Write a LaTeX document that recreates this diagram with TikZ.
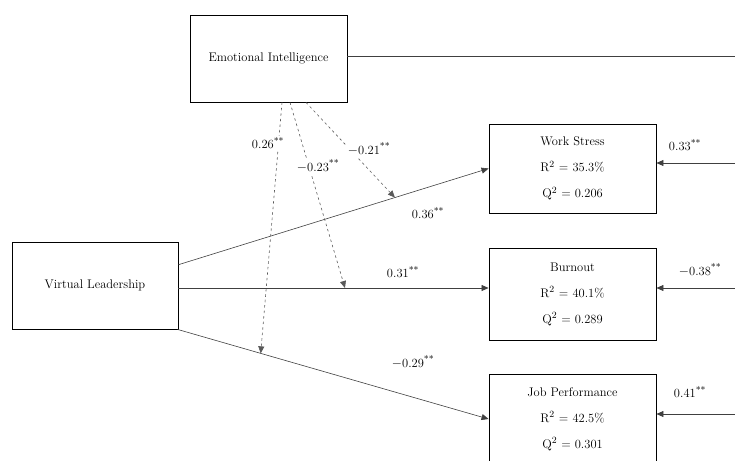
\documentclass[tikz,border=0pt]{standalone}
\usepackage{mathpazo}
\usetikzlibrary{arrows.meta}

\newcommand{\sig}{\textsuperscript{**}}

\begin{document}
\begin{tikzpicture}[x=1pt,y=-1pt]
	\tikzstyle{every node}=[font=\fontsize{12.5}{14}\selectfont]
	\tikzstyle{box}=[draw,line width=0.9pt,rectangle,inner sep=0pt,align=center]
	\tikzstyle{path}=[draw=black!75,line width=0.6pt,-{Triangle[length=7pt,width=6pt]}]
	\tikzstyle{moder}=[path,draw=black!65,dash pattern=on 2.5pt off 3pt]
	\tikzstyle{coef}=[font=\fontsize{12.5}{14}\selectfont,fill=white,inner sep=1.5pt]
	\useasboundingbox (0,0) rectangle (735,460);
	\clip (0,0) rectangle (735,460);
	% constructs
	\node[box,minimum width=157pt,minimum height=87pt] (ei) at (268.5,58.5) {Emotional Intelligence};
	\node[box,minimum width=166pt,minimum height=87pt] (vl) at (95,285.5) {Virtual Leadership};
	\node[box,minimum width=167pt,minimum height=89pt] (ws) at (572.5,168.5)
		{Work Stress\\[12pt] R\textsuperscript{2} = 35.3\%\\[12pt] Q\textsuperscript{2} = 0.206};
	\node[box,minimum width=167pt,minimum height=92pt] (bo) at (572.5,294)
		{Burnout\\[12pt] R\textsuperscript{2} = 40.1\%\\[12pt] Q\textsuperscript{2} = 0.289};
	\node[box,minimum width=167pt,minimum height=90pt] (jp) at (572.5,419)
		{Job Performance\\[12pt] R\textsuperscript{2} = 42.5\%\\[12pt] Q\textsuperscript{2} = 0.301};
	% free ends on the right
	\coordinate (eiout) at (735,56);
	\coordinate (wsin) at (735,163);
	\coordinate (boin) at (735,288);
	\coordinate (jpin) at (735,414);
	\coordinate (midrow) at (0,288);
	% direct paths
	\draw[path] (vl.14) -- (ws.west) coordinate[pos=0.698] (m1);
	\draw[path] (vl.east |- midrow) -- (bo.west |- midrow) coordinate[pos=0.537] (m2);
	\draw[path] (vl.-28) -- (jp.west) coordinate[pos=0.267] (m3);
	% moderation
	\draw[moder] ([xshift=37.5pt]ei.south) -- (m1);
	\draw[moder] ([xshift=21.5pt]ei.south) -- (m2);
	\draw[moder] ([xshift=13.5pt]ei.south) -- (m3);
	% right side
	\draw[draw=black!75,line width=0.6pt] (ei.east |- eiout) -- (eiout);
	\draw[path] (wsin) -- (wsin -| ws.east);
	\draw[path] (boin) -- (boin -| bo.east);
	\draw[path] (jpin) -- (jpin -| jp.east);
	% coefficients
	\node[coef] (c1) at (268,143) {0.26\sig};
	\node[coef] (c2) at (318,166) {$-$0.23\sig};
	\node[coef] (c3) at (369,149) {$-$0.21\sig};
	\node[coef] (c4) at (428,213) {0.36\sig};
	\node[coef] (c5) at (403,272) {0.31\sig};
	\node[coef] (c6) at (413,362) {$-$0.29\sig};
	\node[coef] (c7) at (685,145) {0.33\sig};
	\node[coef] (c8) at (700,270) {$-$0.38\sig};
	\node[coef] (c9) at (690,392) {0.41\sig};
\end{tikzpicture}
\end{document}
